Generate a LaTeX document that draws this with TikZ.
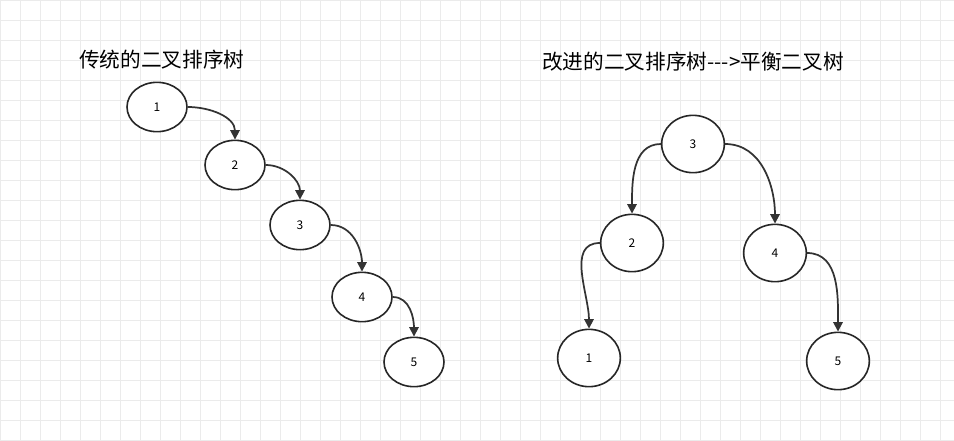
\documentclass[tikz,border=0pt]{standalone}
\usepackage{fontspec}
\newfontfamily\cjk{Noto Sans CJK SC}
\usetikzlibrary{arrows.meta,shapes.geometric}
\begin{document}
\begin{tikzpicture}[x=0.75pt,y=-0.75pt,
  nd/.style={draw=black!85,line width=1.2pt,ellipse,minimum width=45pt,minimum height=37pt,inner sep=0pt,font=\cjk\fontsize{9}{10}\selectfont,fill=white},
  ar/.style={draw=black!80,line width=1.3pt,-{Triangle[length=7pt,width=7pt]}},
  ttl/.style={font=\cjk\fontsize{15.5}{17}\selectfont}]
\useasboundingbox (0,0) rectangle (954,440);
\fill[white] (0,0) rectangle (954,440);
\foreach \x in {0,20,...,940} \draw[black!8,line width=0.5pt] (\x,0) -- (\x,440);
\foreach \y in {0,20,...,440} \draw[black!8,line width=0.5pt] (0,\y) -- (954,\y);
\node[ttl] (t1) at (162,60) {传统的二叉排序树};
\node[ttl] (t2) at (693,62) {改进的二叉排序树--->平衡二叉树};
\node[nd] (a1) at (157,107) {1};
\node[nd] (a2) at (235,165) {2};
\node[nd] (a3) at (300,225) {3};
\node[nd] (a4) at (362,297) {4};
\node[nd] (a5) at (414,362) {5};
\node[nd,minimum width=47pt,minimum height=43pt] (b3) at (693,144) {3};
\node[nd,minimum width=47pt,minimum height=43pt] (b2) at (632,243) {2};
\node[nd,minimum width=47pt,minimum height=43pt] (b1) at (589,358) {1};
\node[nd,minimum width=47pt,minimum height=43pt] (b4) at (775,253) {4};
\node[nd,minimum width=47pt,minimum height=43pt] (b5) at (838,361) {5};
\draw[ar] (a1.east) to[out=0,in=90] (a2.north);
\draw[ar] (a2.east) to[out=0,in=90] (a3.north);
\draw[ar] (a3.east) to[out=0,in=90] (a4.north);
\draw[ar] (a4.east) to[out=0,in=90] (a5.north);
\draw[ar] (b3.west) to[out=180,in=90] (b2.north);
\draw[ar] (b2.west) to[out=180,in=90] (b1.north);
\draw[ar] (b3.east) to[out=0,in=90] (b4.north);
\draw[ar] (b4.east) to[out=0,in=90] (b5.north);
\end{tikzpicture}
\end{document}
